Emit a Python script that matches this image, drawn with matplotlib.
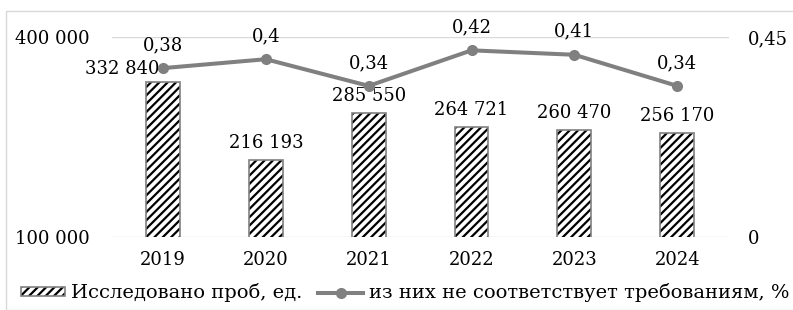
import matplotlib
matplotlib.use("Agg")
import matplotlib.pyplot as plt
from matplotlib.patches import Patch, Rectangle
from matplotlib.lines import Line2D
from matplotlib.legend_handler import HandlerTuple

years = ["2019", "2020", "2021", "2022", "2023", "2024"]
samples = [332840, 216193, 285550, 264721, 260470, 256170]
noncompliant = [0.38, 0.40, 0.34, 0.42, 0.41, 0.34]
sample_labels = ["332 840", "216 193", "285 550", "264 721", "260 470", "256 170"]
pct_labels = ["0,38", "0,4", "0,34", "0,42", "0,41", "0,34"]
left_ticks = [100000, 400000]
left_ticklabels = ["100 000", "400 000"]
right_ticks = [0, 0.45]
right_ticklabels = ["0", "0,45"]
legend_labels = ["Исследовано проб, ед.", "из них не соответствует требованиям, %"]

plt.rcParams["font.family"] = ["DejaVu Serif"]
plt.rcParams["hatch.linewidth"] = 1.6
FS = 13
LFS = 14
GRAY = "#808080"
GRID = "#d9d9d9"

W, H = 793, 310
fig = plt.figure(figsize=(W / 100, H / 100), dpi=100)
fig.patches.append(Rectangle((6 / W, 0), 1.2, (H - 11) / H, transform=fig.transFigure,
                             fill=False, edgecolor=GRID, linewidth=1.0))

x0, x1 = 111.6, 728.6
ytop, ybot = 37, 237
ax = fig.add_axes([x0 / W, (H - ybot) / H, (x1 - x0) / W, (ybot - ytop) / H])
ax2 = ax.twinx()

xs = list(range(len(years)))
ax.bar(xs, samples, width=0.33, bottom=0, color="white", edgecolor="black",
       linewidth=0, hatch="////", zorder=2)
ax.bar(xs, samples, width=0.33, fill=False, edgecolor=GRAY, linewidth=1.2, zorder=3)
ax.set_ylim(100000, 400000)
ax.set_xlim(-0.5, len(years) - 0.5)
ax.set_yticks(left_ticks)
ax.set_yticklabels(left_ticklabels, fontsize=FS)
ax.set_xticks(xs)
ax.set_xticklabels(years, fontsize=FS)
ax.tick_params(axis="y", length=0, pad=16)
ax.tick_params(axis="x", length=0, pad=10)
ax.grid(axis="y", color=GRID, linewidth=1.0, zorder=0)
ax.set_axisbelow(True)
for s in ["top", "right", "left", "bottom"]:
    ax.spines[s].set_visible(False)

bar_offsets = {0: (-41, 13)}
for i, (v, t) in enumerate(zip(samples, sample_labels)):
    dx, dy = bar_offsets.get(i, (0, 17))
    ax.annotate(t, xy=(i, v), xytext=(dx, dy), textcoords="offset pixels",
                ha="center", va="center", fontsize=FS, zorder=5)

ax2.plot(xs, noncompliant, color=GRAY, linewidth=2.9, marker="o", markersize=7,
         solid_capstyle="round", zorder=4)
ax2.set_ylim(0, 0.45)
ax2.set_yticks(right_ticks)
ax2.set_yticklabels(right_ticklabels, fontsize=FS)
ax2.tick_params(axis="y", length=0, pad=14)
for s in ["top", "right", "left", "bottom"]:
    ax2.spines[s].set_visible(False)
for i, (v, t) in enumerate(zip(noncompliant, pct_labels)):
    ax2.annotate(t, xy=(i, v), xytext=(0, 23), textcoords="offset pixels",
                 ha="center", va="center", fontsize=FS)

h_bar = (Patch(facecolor="white", edgecolor="black", linewidth=0, hatch="////"),
         Patch(fill=False, edgecolor=GRAY, linewidth=1.2))
h_line = Line2D([], [], color=GRAY, linewidth=2.9, marker="o", markersize=7)
fig.legend([h_bar, h_line], legend_labels, loc="center",
           bbox_to_anchor=(405 / W, (H - 293) / H), ncol=2, frameon=False,
           fontsize=LFS, handlelength=2.3, handleheight=0.4, handletextpad=0.3,
           columnspacing=0.8, numpoints=1,
           handler_map={tuple: HandlerTuple(ndivide=1)})

fig.savefig("out.png", dpi=100)
